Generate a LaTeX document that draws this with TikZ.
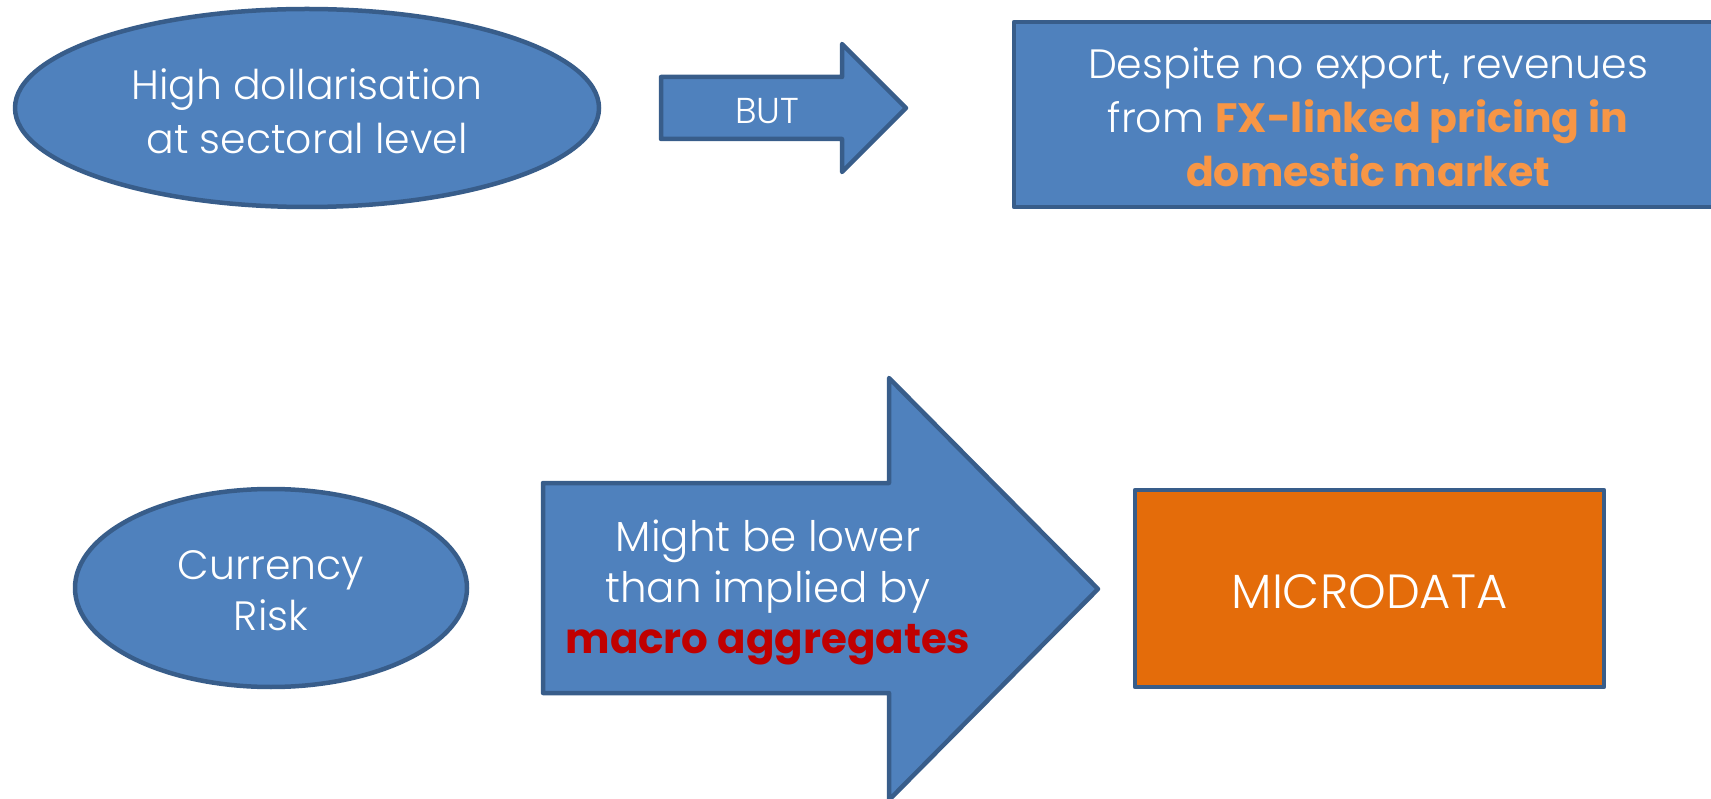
\documentclass[tikz,border=0pt]{standalone}
\usepackage{fontspec}
\setmainfont{Poppins Light}[BoldFont={Poppins Bold}]
\definecolor{boxblue}{HTML}{4F81BD}
\definecolor{edgeblue}{HTML}{385D8A}
\definecolor{boxorange}{HTML}{E46C0A}
\definecolor{txtorange}{HTML}{F79646}
\definecolor{txtred}{HTML}{C00000}
\begin{document}
\begin{tikzpicture}[x=1pt,y=-1pt,
  shapestyle/.style={fill=boxblue,draw=edgeblue,line width=4.5pt,line join=round},
  txt/.style={text=white,align=center,font=\fontsize{41}{54}\selectfont},
  bigtxt/.style={text=white,align=center,font=\fontsize{42}{51}\selectfont}]
\useasboundingbox (0,0) rectangle (1711,799);
% top row
\draw[shapestyle] (307,108) ellipse [x radius=292, y radius=99];
\node[txt] (dollar) at (307,111) {High dollarisation\\at sectoral level};
\draw[shapestyle] (661,77) -- (842,77) -- (842,44) -- (906,108) -- (842,172) -- (842,139) -- (661,139) -- cycle;
\node[txt,font=\fontsize{36}{40}\selectfont] (but) at (767,111) {BUT};
\draw[shapestyle] (1014,22) rectangle (1726,207);
\node[txt] (despite) at (1368,117) {Despite no export, revenues\\from \textbf{\textcolor{txtorange}{FX-linked pricing in}}\\\textbf{\textcolor{txtorange}{domestic market}}};
% bottom row
\draw[shapestyle] (271,588) ellipse [x radius=196, y radius=99];
\node[bigtxt,font=\fontsize{41}{51}\selectfont] (risk) at (271,591) {Currency\\Risk};
\draw[shapestyle] (543,483) -- (889,483) -- (889,378) -- (1098,589) -- (889,800) -- (889,693) -- (543,693) -- cycle;
\node[bigtxt] (lower) at (768,592) {Might be lower\\than implied by\\\textbf{\textcolor{txtred}{macro aggregates}}};
\node[shapestyle,fill=boxorange,minimum width=469pt,minimum height=197pt,inner sep=0pt] (micro) at (1369.5,588.5) {};
\node[txt,font=\fontsize{48}{50}\selectfont] at ([yshift=-3pt]micro.center) {MICRODATA};
\end{tikzpicture}
\end{document}
